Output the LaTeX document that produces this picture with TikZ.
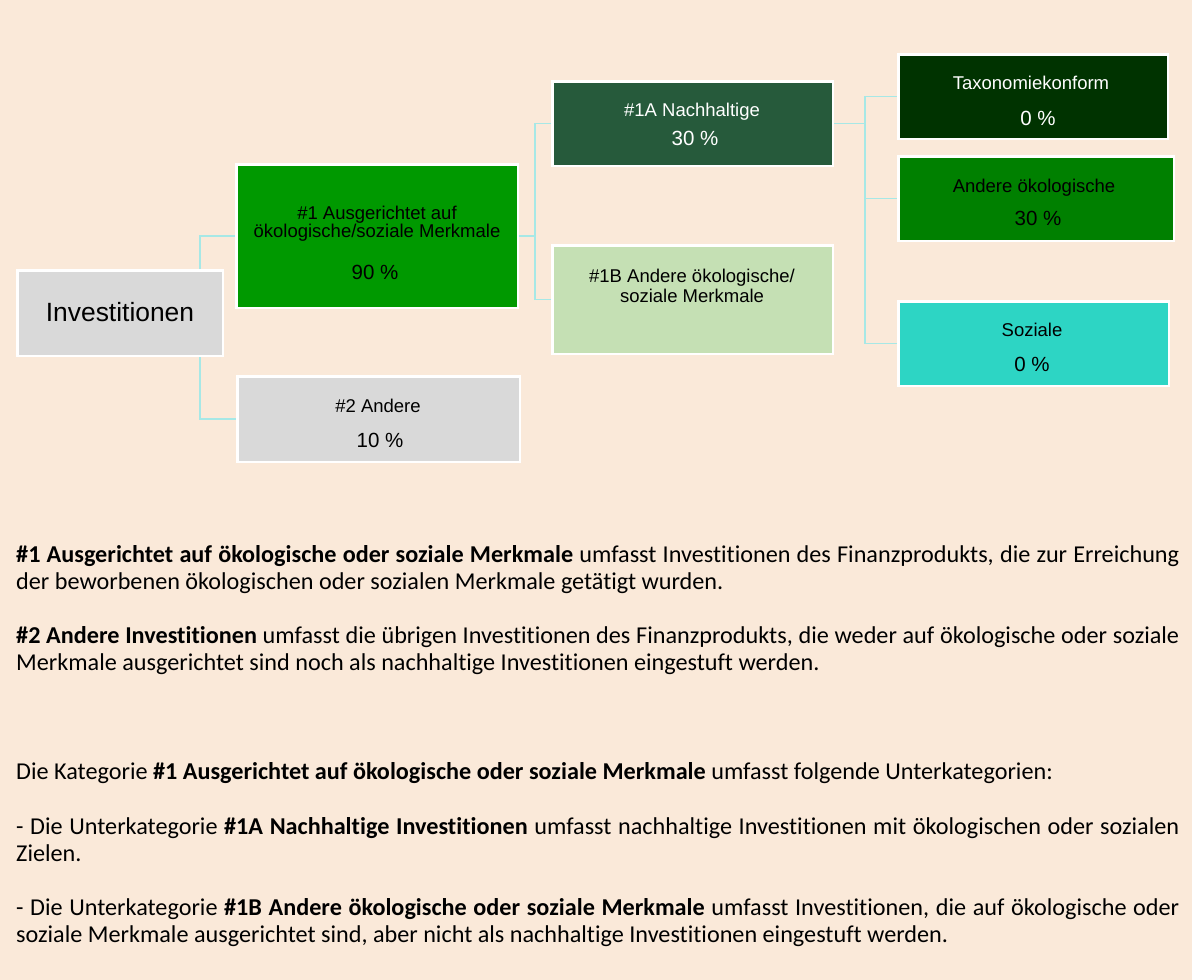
\documentclass[tikz,border=0pt]{standalone}
\usepackage{fontspec}
\setmainfont{Carlito}[Ligatures={NoCommon}]
\newfontfamily\boxfont{Liberation Sans}
\definecolor{bgpeach}{HTML}{FAE9D9}
\definecolor{greybox}{HTML}{D9D9D9}
\definecolor{greenmain}{HTML}{009900}
\definecolor{greendark}{HTML}{265A3B}
\definecolor{greenlight}{HTML}{C5E0B4}
\definecolor{greentaxo}{HTML}{003300}
\definecolor{greenoeko}{HTML}{008000}
\definecolor{turqsoz}{HTML}{2DD5C4}
\definecolor{connline}{HTML}{A6E8E6}
\tikzset{
  box/.style={draw=white, line width=2.5pt, inner sep=0pt},
  lbl/.style={anchor=base, inner sep=0pt, font=\boxfont\fontsize{18.5}{20}\selectfont},
  pct/.style={lbl, font=\boxfont\fontsize{20.5}{22}\selectfont},
  conn/.style={draw=connline, line width=1.3pt},
  para/.style={anchor=base west, inner sep=0pt, text width=1163pt, align=justify,
    font=\fontsize{24.2}{27.2}\selectfont}
}
\hyphenpenalty=10000
\exhyphenpenalty=10000

\begin{document}
\begin{tikzpicture}[x=1pt,y=-1pt]
  \fill[bgpeach] (0,0) rectangle (1192,980);
  \useasboundingbox (0,0) rectangle (1192,980);

  % boxes
  \node[box, fill=greybox,    minimum width=205.5pt, minimum height=85.5pt]  (inv)  at (120,313)    {};
  \node[box, fill=greenmain,  minimum width=281.5pt, minimum height=143.5pt] (a1)   at (377,236)    {};
  \node[box, fill=greybox,    minimum width=282.5pt, minimum height=85.5pt]  (a2)   at (378.5,419)  {};
  \node[box, fill=greendark,  minimum width=280.5pt, minimum height=84.5pt]  (n1a)  at (692.5,123.5){};
  \node[box, fill=greenlight, minimum width=280.5pt, minimum height=108.5pt] (n1b)  at (692.5,299.5){};
  \node[box, fill=greentaxo,  minimum width=269.5pt, minimum height=84.5pt]  (taxo) at (1033,96.5)  {};
  \node[box, fill=greenoeko,  minimum width=275.5pt, minimum height=84.5pt]  (oeko) at (1036,198.5) {};
  \node[box, fill=turqsoz,    minimum width=270.5pt, minimum height=84.5pt]  (soz)  at (1033.5,343.5){};

  % box texts
  \node[lbl, font=\boxfont\fontsize{26.4}{28}\selectfont] (inv-t) at (120,321) {Investitionen};
  \node[lbl] (a1-t1) at (377,219) {\#1 Ausgerichtet auf};
  \node[lbl] (a1-t2) at (377,237) {ökologische/soziale Merkmale};
  \node[pct] (a1-p)  at (375,279) {90 \%};
  \node[lbl] (a2-t)  at (378,412) {\#2 Andere};
  \node[pct] (a2-p)  at (380,447) {10 \%};
  \node[lbl, text=white] (n1a-t) at (692,116) {\#1A Nachhaltige};
  \node[pct, text=white] (n1a-p) at (695,145) {30 \%};
  \node[lbl] (n1b-t1) at (692,282) {\#1B Andere ökologische/};
  \node[lbl] (n1b-t2) at (692,302) {soziale Merkmale};
  \node[lbl, text=white] (taxo-t) at (1031,89)  {Taxonomiekonform};
  \node[pct, text=white] (taxo-p) at (1038,125) {0 \%};
  \node[lbl] (oeko-t) at (1034,192) {Andere ökologische};
  \node[pct] (oeko-p) at (1038,225) {30 \%};
  \node[lbl] (soz-t)  at (1032,336) {Soziale};
  \node[pct] (soz-p)  at (1032,371) {0 \%};

  % connectors
  \draw[conn] ([xshift=80pt]inv.north) |- (a1.west);
  \draw[conn] ([xshift=80pt]inv.south) |- (a2.west);
  \draw[conn] (a1.east) -- ++(16,0) |- (n1a.west);
  \draw[conn] (a1.east) -- ++(16,0) |- (n1b.west);
  \draw[conn] (n1a.east) -- ++(31,0) |- (taxo.west);
  \draw[conn] (n1a.east) -- ++(31,0) |- (oeko.west);
  \draw[conn] (n1a.east) -- ++(31,0) |- (soz.west);

  % explanations
  \node[para] (p1) at (16,562) {\textbf{\#1 Ausgerichtet auf ökologische oder soziale Merkmale} umfasst Investitionen des Finanzprodukts, die zur Erreichung\linebreak der beworbenen ökologischen oder sozialen Merkmale getätigt wurden.};
  \node[para] (p2) at (16,643.6) {\textbf{\#2 Andere Investitionen} umfasst die übrigen Investitionen des Finanzprodukts, die weder auf ökologische oder soziale\linebreak Merkmale ausgerichtet sind noch als nachhaltige Investitionen eingestuft werden.};
  \node[para] (p3) at (16,779.6) {Die Kategorie \textbf{\#1 Ausgerichtet auf ökologische oder soziale Merkmale} umfasst folgende Unterkategorien:};
  \node[para] (p4) at (16,834) {- Die Unterkategorie \textbf{\#1A Nachhaltige Investitionen} umfasst nachhaltige Investitionen mit ökologischen oder sozialen\linebreak Zielen.};
  \node[para] (p5) at (16,915.6) {- Die Unterkategorie \textbf{\#1B Andere ökologische oder soziale Merkmale} umfasst Investitionen, die auf ökologische oder\linebreak soziale Merkmale ausgerichtet sind, aber nicht als nachhaltige Investitionen eingestuft werden.};
\end{tikzpicture}
\end{document}
